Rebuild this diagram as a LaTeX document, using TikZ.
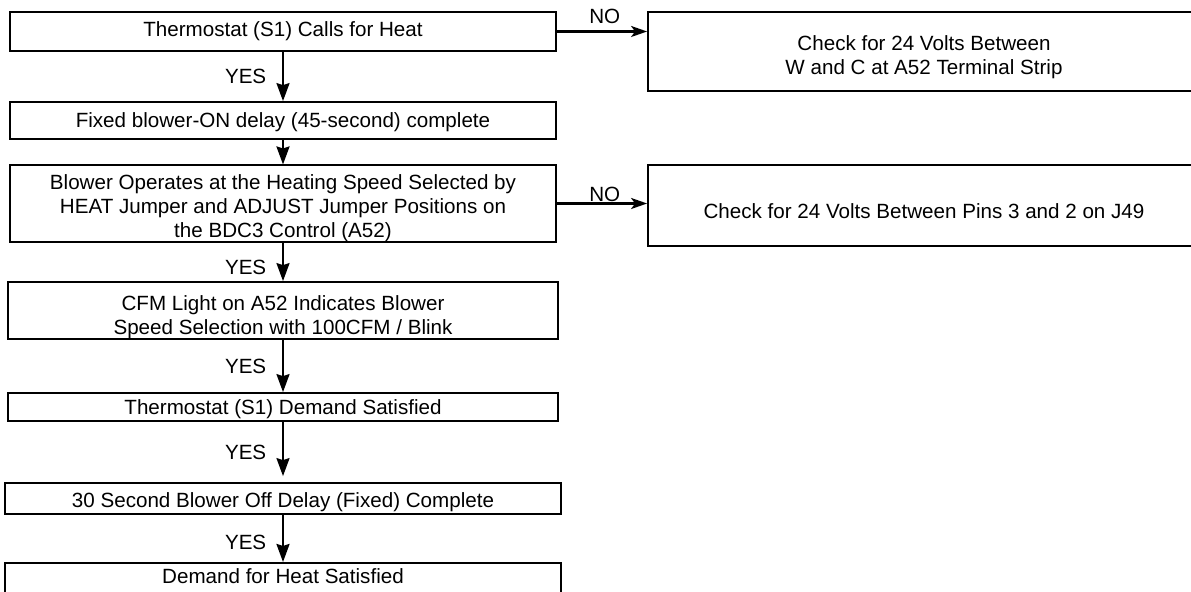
\documentclass[tikz,border=0pt]{standalone}
\usepackage{fontspec}
\setmainfont{Liberation Sans}
\usetikzlibrary{arrows.meta}
\newcommand\topstrut[1]{\rule{0pt}{#1}}

\begin{document}
\begin{tikzpicture}
  [x=0.5pt,y=-0.5pt,line width=1pt,
   every node/.style={font=\fontsize{10.3}{12}\selectfont,align=center},
   box/.style={draw,line width=0.9pt,inner sep=0pt,minimum width=273pt},
   yes/.style={line width=1.1pt,-{Stealth[length=9pt,width=6.5pt,inset=1pt]}},
   no/.style={line width=1.1pt,-{Stealth[length=8pt,width=5.5pt,inset=2pt]}}]
  \useasboundingbox (0,0) rectangle (1191,592);

  \node[box,minimum height=19.5pt] (n1) at (283,31.5) {Thermostat (S1) Calls for Heat};
  \node[box,minimum height=18.5pt] (n2) at (283,120.5) {\topstrut{9.5pt}Fixed blower-ON delay (45-second) complete};
  \node[box,minimum height=37.5pt] (n3) at (283,203.5) {\topstrut{12pt}Blower Operates at the Heating Speed Selected by\\HEAT Jumper and ADJUST Jumper Positions on\\the BDC3 Control (A52)};
  \node[box,minimum width=275pt,minimum height=28.5pt] (n4) at (283,310.5) {\topstrut{14pt}CFM Light on A52 Indicates Blower\\Speed Selection with 100CFM / Blink};
  \node[box,minimum width=275pt,minimum height=14pt] (n5) at (283,407) {\topstrut{9.5pt}Thermostat (S1) Demand Satisfied};
  \node[box,minimum width=278pt,minimum height=15.5pt] (n6) at (283,498.5) {\topstrut{11.5pt}30 Second Blower Off Delay (Fixed) Complete};
  \node[box,minimum width=278pt,anchor=north,text height=10.5pt,text depth=10pt] (n7) at (283,562) {Demand for Heat Satisfied};

  \node[box,minimum width=276pt,minimum height=39.5pt] (c1) at (924,51.5) {\topstrut{13.5pt}Check for 24 Volts Between\\W and C at A52 Terminal Strip};
  \node[box,minimum width=276pt,minimum height=40.5pt] (c2) at (924,205.5) {\topstrut{13.5pt}Check for 24 Volts Between Pins 3 and 2 on J49};

  \foreach \from/\to/\p in {n1/n2/.5,n3/n4/.65,n4/n5/.5,n6/n7/.58}
    \draw[yes] (\from) -- node[left=4.5pt,pos=\p] {YES} (\to);
  \draw[yes] (n2) -- (n3);
  \draw[yes,shorten >=3pt] (n5) -- node[left=4.5pt] {YES} (n6);

  \draw[no] (n1) -- node[above,pos=.53] {NO} (c1.west |- n1);
  \draw[no] (n3) -- node[above,pos=.53,inner sep=0.3pt] {NO} (c2.west |- n3);
\end{tikzpicture}
\end{document}
